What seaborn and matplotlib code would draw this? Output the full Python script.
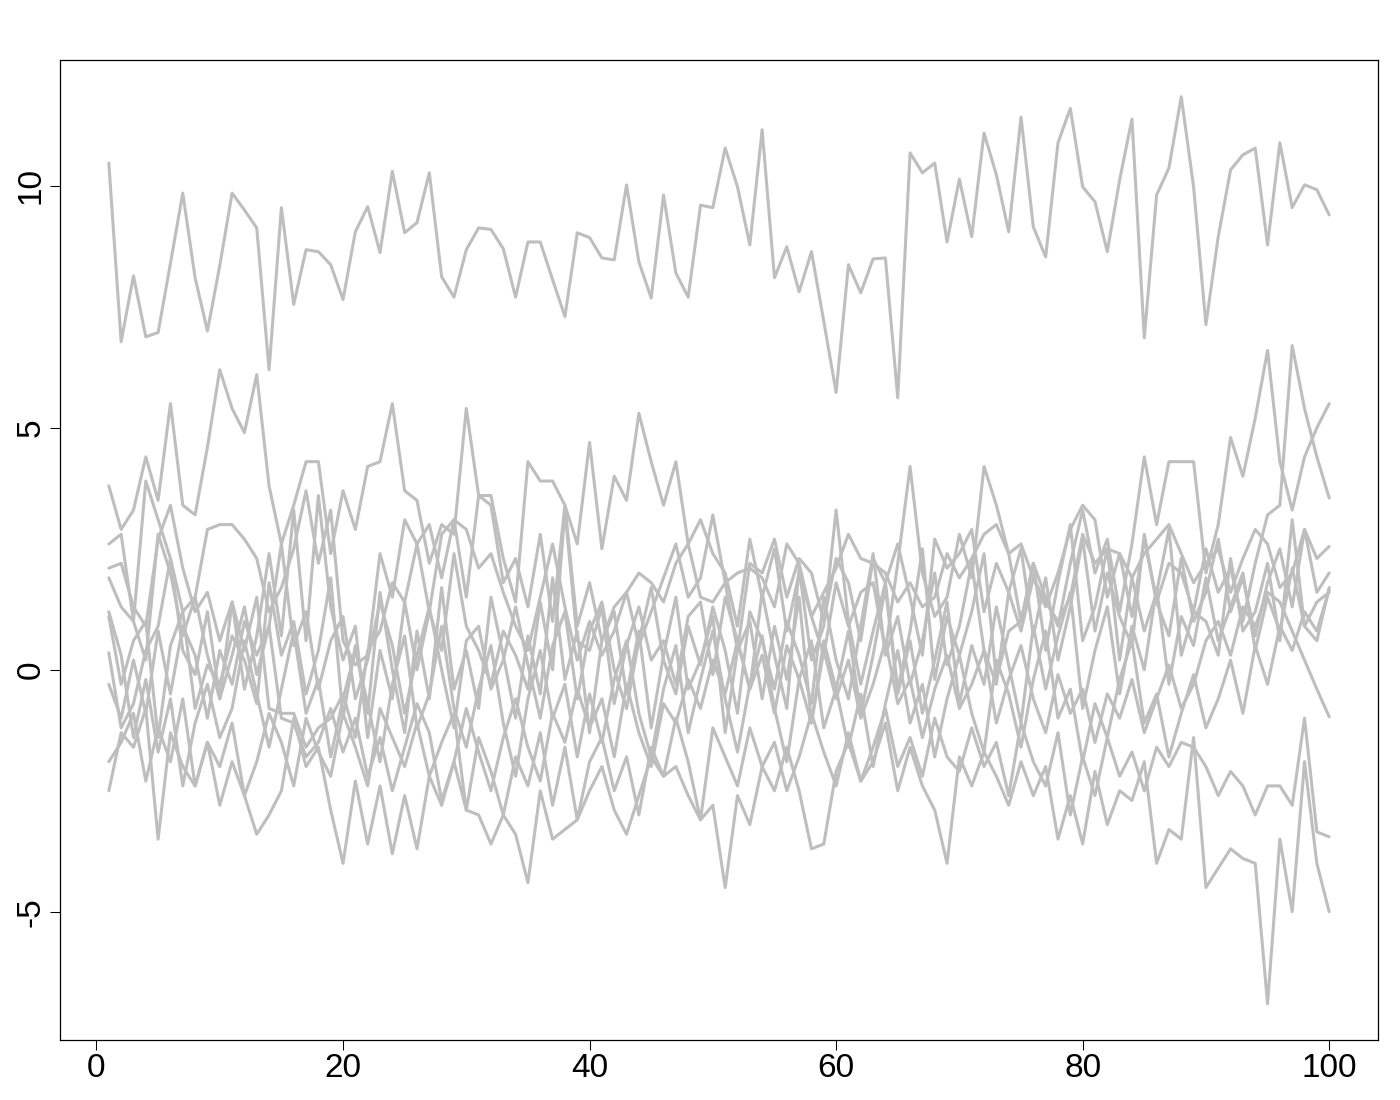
import numpy as np
import pandas as pd
import matplotlib
matplotlib.use("Agg")
import matplotlib.pyplot as plt
import seaborn as sns

x_index = list(range(1, 101))

series_top = [10.47, 6.78, 8.14, 6.88, 6.97, 8.4, 9.85, 8.1, 7.0, 8.35,
              9.85, 9.5, 9.13, 6.2, 9.55, 7.55, 8.68, 8.64, 8.37, 7.65,
              9.05, 9.57, 8.62, 10.3, 9.03, 9.24, 10.27, 8.12, 7.7, 8.68,
              9.13, 9.1, 8.7, 7.7, 8.84, 8.84, 8.06, 7.3, 9.03, 8.93,
              8.51, 8.47, 10.02, 8.43, 7.68, 9.81, 8.2, 7.7, 9.6, 9.55,
              10.78, 9.98, 8.78, 11.16, 8.1, 8.74, 7.81, 8.64, 7.2, 5.73,
              8.37, 7.79, 8.49, 8.51, 5.62, 10.68, 10.27, 10.47, 8.84, 10.14,
              8.95, 11.09, 10.23, 9.05, 11.42, 9.15, 8.53, 10.89, 11.6, 9.98,
              9.67, 8.64, 10.12, 11.38, 6.86, 9.81, 10.37, 11.84, 9.98, 7.13,
              8.95, 10.33, 10.64, 10.78, 8.78, 10.89, 9.55, 10.02, 9.92, 9.4]

series_a = [3.8, 2.9, 3.3, 4.4, 3.5, 5.5, 3.4, 3.2, 4.6, 6.2,
            5.4, 4.9, 6.1, 3.8, 2.6, 3.4, 4.3, 4.3, 2.4, 3.7,
            2.9, 4.2, 4.3, 5.5, 3.7, 3.5, 2.2, 3.0, 2.8, 5.4,
            3.6, 3.6, 2.3, 1.4, 4.3, 3.9, 3.9, 3.4, 2.6, 4.7,
            2.5, 4.0, 3.5, 5.3, 4.3, 3.4, 4.3, 2.6, 3.1, 2.4,
            2.0, 0.9, 2.7, 1.5, 2.5, 0.8, 2.0, 1.1, 0.3, 1.8,
            0.9, 1.6, 1.8, 0.4, 2.2, 4.2, 2.0, 1.1, 1.5, 2.8,
            1.9, 4.2, 3.4, 2.4, 1.0, 2.2, 1.5, 0.9, 2.2, 3.3,
            2.0, 2.7, 1.2, 2.6, 4.4, 3.0, 4.3, 4.3, 4.3, 2.0,
            3.0, 4.8, 4.0, 5.2, 6.6, 4.3, 3.3, 4.4, 5.0, 5.5]

series_b = [2.6, 2.8, 1.0, 3.9, 3.1, 2.3, 1.2, 1.5, 2.9, 3.0,
            3.0, 2.7, 2.3, 1.2, 1.7, 2.5, 3.7, 2.2, 3.3, 0.6,
            0.1, 0.3, 2.4, 1.5, 3.1, 2.6, 3.0, 1.9, 3.1, 1.5,
            3.6, 3.4, 1.8, 2.3, 1.3, 2.8, 1.0, 3.4, 0.9, 1.8,
            0.6, 1.3, 1.6, 0.5, 1.2, 1.9, 2.6, 1.5, 1.9, 3.2,
            1.8, 0.4, 2.2, 2.0, 2.7, 1.5, 2.3, 2.0, 1.0, 2.3,
            1.8, 0.6, 2.3, 1.8, 2.6, 1.5, 0.3, 2.7, 2.1, 2.4,
            2.9, 1.2, 2.2, 1.6, 0.8, 1.9, 1.3, 2.0, 2.9, 3.4,
            3.1, 1.5, 2.4, 1.1, 2.7, 1.4, 2.2, 2.0, 1.2, 2.5,
            1.6, 2.1, 1.0, 2.2, 3.2, 3.4, 6.7, 5.4, 4.4, 3.55]

series_c = [2.1, 2.2, 1.3, 0.9, 2.7, 3.4, 2.1, 1.2, 1.6, 0.6,
            1.4, 0.4, 1.5, -0.8, -0.9, -0.9, -1.6, -1.2, -1.0, -0.5,
            -1.4, 0.4, 0.8, 1.8, 1.4, 0.0, 1.2, 2.8, 3.1, 2.9,
            2.1, 2.4, 1.6, 0.9, 0.4, 1.5, 2.6, 1.3, 0.2, 1.0,
            0.3, 0.8, 1.6, 2.0, 1.8, 1.4, 2.2, 2.6, 1.5, 1.4,
            1.8, 2.0, 2.1, 1.9, 1.3, 2.6, 2.2, 1.1, 1.6, 2.1,
            2.8, 2.3, 2.2, 2.0, 1.4, 1.8, 1.3, 1.5, 2.4, 1.9,
            2.3, 2.8, 3.0, 2.4, 2.6, 1.9, 1.4, 1.0, 1.5, 2.8,
            2.2, 2.5, 2.4, 1.9, 2.4, 2.7, 3.0, 2.4, 1.8, 2.2,
            2.5, 1.6, 2.3, 2.9, 2.6, 1.7, 2.0, 2.9, 2.3, 2.55]

series_d = [1.9, 1.3, 1.0, 0.2, 2.8, 2.0, 0.7, 1.5, 0.3, -0.6,
            1.4, -0.4, 0.7, 2.4, 0.7, 3.3, 0.6, 3.6, 1.3, 0.2,
            0.9, -1.4, 0.4, -0.6, 1.4, 2.6, 1.2, 0.4, 2.4, 0.9,
            0.4, -0.3, 0.8, 0.3, -0.4, 1.4, 0.0, 3.3, 0.6, 0.4,
            1.3, -0.7, 0.5, 1.3, 0.2, 0.6, -0.3, 1.1, 1.4, -0.1,
            1.5, 0.6, -0.4, 1.6, 0.3, -0.8, 2.1, 0.2, 0.9, 3.3,
            1.0, -0.3, 0.8, 1.8, -0.4, 0.8, 2.5, -0.2, 1.1, 0.3,
            1.2, 2.4, -0.2, 0.8, 1.0, 2.2, 0.4, 1.8, 3.0, 0.6,
            1.3, 2.5, 0.2, 1.9, 0.8, 1.6, 2.9, 0.3, 1.2, 1.0,
            0.3, 2.3, 0.8, 1.2, 2.2, 0.6, 3.1, 0.9, 0.6, 1.7]

series_e = [1.1, -0.3, 0.6, 1.0, -1.4, 0.5, 1.2, -0.8, 0.1, -0.3,
            0.7, 0.2, -0.7, 1.8, 0.3, 1.0, -0.5, 0.4, 1.9, -1.0,
            0.5, -0.9, 1.6, 0.0, -1.3, 0.8, -0.6, 1.7, -0.4, 0.4,
            -0.8, 1.5, 0.3, -1.0, 0.7, -0.5, 1.9, -0.2, 0.8, -1.3,
            0.6, 1.2, -0.5, 0.8, -1.2, 0.3, 1.5, -0.4, 0.2, 1.1,
            -1.3, 0.4, 1.0, -0.6, 0.9, -0.2, 1.5, -1.1, 0.6, -0.4,
            0.8, -0.9, 0.3, 1.7, -0.5, 0.6, -0.9, 0.2, 1.4, -0.7,
            0.5, -0.3, 1.3, 0.1, -1.1, 0.9, -0.4, 0.7, 1.6, -0.8,
            0.4, 1.3, -0.5, 0.9, 0.0, 1.7, -0.3, 1.1, 0.5, 1.9,
            0.6, 1.3, 2.0, 0.4, 1.5, 0.8, 2.1, 0.9, 1.4, 1.6]

series_f = [0.35, -1.2, -0.7, 0.4, 0.9, 2.3, 0.4, -0.1, 1.2, -0.6,
            0.3, 1.3, -0.1, 0.9, 2.6, 0.5, 1.2, -0.4, 0.6, 1.1,
            -0.6, 0.2, 1.4, 0.5, -0.9, 0.3, 1.3, 0.0, -1.2, 0.6,
            0.9, -0.4, 0.2, 1.3, 0.1, -1.0, 0.5, 1.2, -0.6, 0.8,
            1.4, 0.0, -0.8, 0.6, 1.7, 0.2, -0.5, 0.9, 0.1, 1.3,
            0.4, -0.9, 1.2, 0.6, -0.4, 1.0, 0.3, -0.7, 1.5, 0.2,
            -0.6, 0.9, 2.4, 0.3, 1.1, -0.3, 0.6, 2.0, 0.1, 0.9,
            2.2, 0.4, -0.3, 1.6, 2.5, 0.7, 1.9, 0.2, 1.3, 2.7,
            0.8, 2.0, 1.1, 0.5, 2.8, 1.4, 0.7, 2.3, 1.0, 1.6,
            2.7, 1.2, 1.9, 0.7, 1.8, 2.5, 1.3, 2.9, 1.6, 2.0]

series_g = [-0.3, -1.0, 0.2, -0.9, 0.8, -0.5, 0.9, 0.3, -1.0, 0.4,
            -0.3, 1.0, 0.3, 0.9, -1.0, -1.1, -1.8, -1.5, -0.8, -1.7,
            -1.0, -2.2, -1.4, -2.5, -1.6, -0.7, -1.3, -2.7, -1.9, -0.8,
            -1.7, -2.5, -1.4, -0.6, -1.6, -2.3, -0.9, -1.5, -0.4, -1.2,
            -0.6, -1.8, -0.3, -1.3, -2.0, -0.7, -1.1, -0.2, -0.8, 0.2,
            -0.5, 0.6, -0.4, 0.3, -0.9, 0.5, -0.2, -1.1, 0.4, -0.6,
            0.2, -1.0, -0.3, 0.6, -0.7, -0.2, -1.4, -0.4, 0.3, -0.8,
            -0.3, 0.4, -1.1, -0.2, 0.5, -0.6, -1.3, -0.1, -0.9, -0.4,
            -1.5, -0.5, -1.0, -0.2, -1.3, -0.6, 0.1, -0.8, -0.3, 0.6,
            1.0, 0.3, 1.3, 0.9, 1.6, 1.4, 0.8, 0.2, -0.4, -0.97]

series_h = [-1.9, -1.5, -0.9, -2.3, -1.2, -1.9, -0.6, -2.4, -1.5, -2.0,
            -1.1, -2.6, -1.9, -0.9, -1.5, -2.4, -1.0, -1.7, -2.2, -0.9,
            -1.6, -2.4, -0.8, -1.4, -2.0, -1.1, -2.2, -1.5, -0.9, -2.9,
            -1.4, -2.1, -3.0, -1.8, -2.4, -1.3, -2.8, -1.6, -3.1, -1.9,
            -1.4, -2.5, -1.8, -3.0, -1.6, -2.2, -1.0, -1.9, -3.1, -1.2,
            -1.8, -2.4, -1.2, -2.0, -1.5, -2.5, -1.8, -0.9, -1.7, -2.4,
            -1.3, -2.3, -1.6, -0.8, -2.0, -1.4, -2.2, -1.0, -1.8, -2.1,
            -1.2, -2.0, -1.5, -2.6, -1.1, -1.9, -2.4, -1.3, -3.0, -1.8,
            -2.6, -1.4, -2.2, -1.7, -2.5, -1.6, -2.0, -1.5, -1.6, -2.0,
            -2.6, -2.1, -2.4, -3.0, -2.4, -2.4, -2.8, -1.0, -3.35, -3.45]

series_i = [1.2, 0.3, -1.4, -0.2, -1.7, -0.6, -2.4, -1.1, -0.3, -1.4,
            -0.8, 0.6, -0.5, -1.6, -0.4, 0.8, -0.9, -0.2, -1.8, -0.6,
            0.4, -0.7, -1.9, -0.3, 0.7, -1.2, -0.5, 0.9, -0.8, -1.6,
            -0.4, 0.5, -1.1, -2.2, -0.6, 0.4, -1.0, -0.3, -1.8, -0.5,
            -1.5, -0.2, 0.6, -0.9, -1.8, -0.4, 0.5, -1.3, -0.2, 0.8,
            -0.6, -1.7, -0.3, 0.7, -0.8, -1.9, -0.2, 0.6, -1.2, -0.4,
            -1.6, -0.5, -2.0, -0.7, 0.4, -1.1, -0.3, -1.8, -0.6, 0.3,
            -0.9, -1.7, 0.2, -0.5, -1.6, -0.2, 0.8, -1.0, -0.4, -1.9,
            -0.7, -1.4, -0.2, 0.6, -1.1, -0.5, -1.8, -0.9, -0.1, -1.2,
            -0.6, 0.2, -0.9, 0.5, -0.3, 0.9, 0.4, 1.2, 0.8, 1.65]

series_j = [-2.5, -1.3, -1.6, -0.8, -3.5, -1.3, -2.0, -2.4, -1.5, -2.8,
            -1.9, -2.6, -3.4, -3.0, -2.5, -1.0, -2.0, -1.6, -2.9, -4.0,
            -2.3, -3.6, -2.4, -3.8, -2.6, -3.7, -2.2, -2.8, -1.9, -2.9,
            -3.0, -3.6, -3.0, -3.4, -4.4, -2.5, -3.5, -3.3, -3.1, -2.5,
            -2.0, -2.9, -3.4, -2.6, -1.8, -2.2, -2.0, -2.6, -3.1, -2.8,
            -4.5, -2.6, -3.2, -2.0, -2.5, -1.6, -2.5, -3.7, -3.6, -2.1,
            -1.5, -2.3, -1.9, -1.1, -2.5, -1.6, -2.4, -2.9, -4.0, -1.8,
            -2.4, -1.7, -2.2, -2.8, -1.9, -2.6, -2.0, -3.5, -2.6, -3.6,
            -2.1, -3.2, -2.5, -2.7, -1.9, -4.0, -3.3, -3.5, -1.4, -4.5,
            -4.1, -3.7, -3.9, -4.0, -6.9, -3.5, -5.0, -1.9, -4.0, -5.0]

series_names = ["top", "a", "b", "c", "d", "e", "f", "g", "h", "i", "j"]
series_values = [series_top, series_a, series_b, series_c, series_d, series_e,
                 series_f, series_g, series_h, series_i, series_j]
x_ticks = [0, 20, 40, 60, 80, 100]
y_ticks = [-5, 0, 5, 10]

frames = [pd.DataFrame({"x": x_index, "y": vals, "series": name})
          for name, vals in zip(series_names, series_values)]
df = pd.concat(frames, ignore_index=True)

sns.set_style("white")
plt.rcParams["font.family"] = ["Liberation Sans", "DejaVu Sans"]

fig = plt.figure(figsize=(14, 11), dpi=100)
ax = fig.add_axes([60 / 1400, 1 - 1040 / 1100, (1378 - 60) / 1400, (1040 - 60) / 1100])

sns.lineplot(data=df, x="x", y="y", hue="series", units="series", estimator=None,
             palette=["#bebebe"] * len(series_names), legend=False,
             linewidth=2.2, ax=ax, sort=False)

ax.set_xlim(-2.96, 103.96)
ax.set_ylim(-7.65, 12.6)
ax.set_xticks(x_ticks)
ax.set_yticks(y_ticks)
ax.set_xticklabels([str(t) for t in x_ticks], fontsize=24)
ax.set_yticklabels([str(t) for t in y_ticks], fontsize=24, rotation=90, va="center")
ax.set_xlabel("")
ax.set_ylabel("")
ax.tick_params(axis="both", direction="out", length=7.5, width=0.75, color="black",
               pad=2, labelcolor="black", left=True, bottom=True)
for side in ["left", "right", "top", "bottom"]:
    ax.spines[side].set_visible(True)
    ax.spines[side].set_color("black")
    ax.spines[side].set_linewidth(0.9)
ax.grid(False)

fig.savefig("out.png", dpi=100, facecolor="white")
